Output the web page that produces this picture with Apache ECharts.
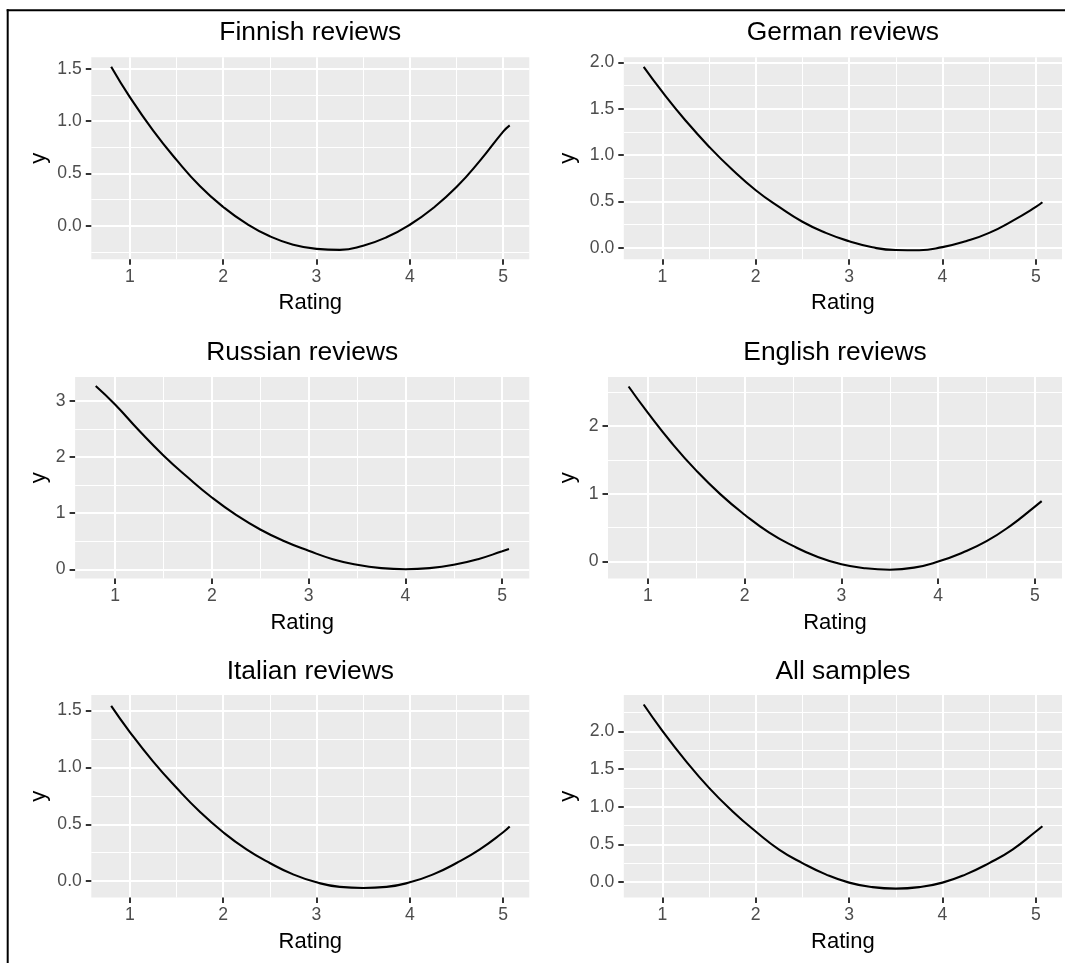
<!DOCTYPE html>
<html>
<head>
<meta charset="utf-8">
<script src="https://cdn.jsdelivr.net/npm/echarts@6/dist/echarts.min.js"></script>
<style>html,body{margin:0;padding:0;background:#fff}#c{width:1065px;height:963px}</style>
</head>
<body>
<div id="c"></div>
<script>
// ---- data ----
const ratings  = [0.8, 1.0, 1.25, 1.5, 1.75, 2.0, 2.25, 2.5, 2.75, 3.0, 3.25, 3.5, 3.75, 4.0, 4.25, 4.5, 4.75, 5.0, 5.07];
const finnish  = [1.52, 1.23, 0.91, 0.63, 0.38, 0.18, 0.02, -0.10, -0.18, -0.22, -0.23, -0.19, -0.11, 0.01, 0.17, 0.37, 0.62, 0.90, 0.96];
const german   = [1.95, 1.68, 1.37, 1.09, 0.84, 0.62, 0.44, 0.28, 0.16, 0.07, 0.004, -0.025, -0.027, 0.006, 0.07, 0.16, 0.29, 0.44, 0.49];
const russian  = [3.27, 2.94, 2.47, 2.03, 1.64, 1.28, 0.97, 0.71, 0.50, 0.33, 0.18, 0.08, 0.02, 0.00, 0.02, 0.08, 0.18, 0.32, 0.36];
const english  = [2.58, 2.19, 1.74, 1.34, 0.99, 0.69, 0.43, 0.23, 0.07, -0.04, -0.10, -0.12, -0.09, 0.00, 0.13, 0.30, 0.53, 0.81, 0.89];
const italian  = [1.54, 1.31, 1.05, 0.82, 0.61, 0.43, 0.28, 0.16, 0.06, -0.01, -0.05, -0.06, -0.05, -0.01, 0.06, 0.16, 0.28, 0.43, 0.48];
const allSamples = [2.36, 2.01, 1.61, 1.25, 0.94, 0.67, 0.43, 0.25, 0.10, -0.01, -0.07, -0.09, -0.07, -0.01, 0.10, 0.25, 0.43, 0.67, 0.74];

const panelTitles = ['Finnish reviews', 'German reviews', 'Russian reviews', 'English reviews', 'Italian reviews', 'All samples'];
const panelSeries = [finnish, german, russian, english, italian, allSamples];
const xTitle = 'Rating';
const yTitle = 'y';

const xRange = [0.587, 5.28];
const xMajorTicks = [1, 2, 3, 4, 5];
const xMinorTicks = [1.5, 2.5, 3.5, 4.5];

const yRanges = [[-0.32, 1.61], [-0.125, 2.054], [-0.165, 3.43], [-0.25, 2.72], [-0.143, 1.635], [-0.208, 2.486]];
const yMajorTicks = [[0, 0.5, 1, 1.5], [0, 0.5, 1, 1.5, 2], [0, 1, 2, 3], [0, 1, 2], [0, 0.5, 1, 1.5], [0, 0.5, 1, 1.5, 2]];
const yMinorTicks = [[-0.25, 0.25, 0.75, 1.25], [0.25, 0.75, 1.25, 1.75], [0.5, 1.5, 2.5], [0.5, 1.5, 2.5], [0.25, 0.75, 1.25], [0.25, 0.75, 1.25, 1.75, 2.25]];
const yTickDecimals = [1, 1, 0, 0, 1, 1];

// ---- layout (pixels) ----
const layout = [
  {left: 91.3, top: 57.3, width: 438, height: 202},
  {left: 623.8, top: 57.3, width: 438.2, height: 202},
  {left: 75.1, top: 377, width: 454.2, height: 201.5},
  {left: 608, top: 377, width: 454, height: 201.5},
  {left: 91.3, top: 695, width: 438, height: 202.5},
  {left: 623.8, top: 695, width: 438.2, height: 202.5}
];
const yTitleX = [38.5, 568, 38.5, 568, 38.5, 568];
const rowTitleY = [33, 353, 672];
const rowXTitleY = [303, 623, 942];

const FONT = '"Liberation Sans", Arial, Helvetica, sans-serif';

const grids = [], xAxes = [], yAxes = [], series = [], graphics = [];

layout.forEach((l, i) => {
  grids.push({left: l.left, top: l.top, width: l.width, height: l.height, show: true,
    backgroundColor: '#EBEBEB', borderWidth: 0, containLabel: false, outerBoundsMode: 'none'});

  xAxes.push({
    type: 'value', gridIndex: i, min: xRange[0], max: xRange[1], position: 'bottom',
    axisLine: {show: false, onZero: false},
    axisTick: {show: true, length: 5.5, lineStyle: {color: '#333333', width: 2}, customValues: xMajorTicks},
    axisLabel: {show: true, customValues: xMajorTicks, margin: 8.5, color: '#4D4D4D', fontSize: 17.6, fontFamily: FONT,
      formatter: v => String(v)},
    splitLine: {show: true, lineStyle: {color: '#FFFFFF', width: 2}},
    minorTick: {show: false}, minorSplitLine: {show: false}
  });
  xAxes.push({
    type: 'value', gridIndex: i, min: xRange[0], max: xRange[1], position: 'top',
    axisLine: {show: false, onZero: false},
    axisTick: {show: false, customValues: xMinorTicks},
    axisLabel: {show: false, customValues: xMinorTicks},
    splitLine: {show: true, lineStyle: {color: '#FFFFFF', width: 1}}
  });

  const dec = yTickDecimals[i];
  yAxes.push({
    type: 'value', gridIndex: i, min: yRanges[i][0], max: yRanges[i][1], position: 'left',
    axisLine: {show: false, onZero: false},
    axisTick: {show: true, length: 5.5, lineStyle: {color: '#333333', width: 2}, customValues: yMajorTicks[i]},
    axisLabel: {show: true, customValues: yMajorTicks[i], margin: 9.5, color: '#4D4D4D', fontSize: 17.6, fontFamily: FONT,
      formatter: v => Number(v).toFixed(dec)},
    splitLine: {show: true, lineStyle: {color: '#FFFFFF', width: 2}},
    minorTick: {show: false}, minorSplitLine: {show: false}
  });
  yAxes.push({
    type: 'value', gridIndex: i, min: yRanges[i][0], max: yRanges[i][1], position: 'right',
    axisLine: {show: false, onZero: false},
    axisTick: {show: false, customValues: yMinorTicks[i]},
    axisLabel: {show: false, customValues: yMinorTicks[i]},
    splitLine: {show: true, lineStyle: {color: '#FFFFFF', width: 1}}
  });

  series.push({
    type: 'line', xAxisIndex: 2 * i, yAxisIndex: 2 * i,
    data: ratings.map((x, j) => [x, panelSeries[i][j]]),
    smooth: 0.5, symbol: 'none', showSymbol: false,
    lineStyle: {color: '#000000', width: 2.1}, silent: true, z: 5
  });

  const cx = l.left + l.width / 2;
  const row = Math.floor(i / 2);
  graphics.push({type: 'text', x: cx, y: rowTitleY[row], silent: true,
    style: {text: panelTitles[i], x: 0, y: 0, fill: '#000', fontSize: 26.4, fontFamily: FONT,
      textAlign: 'center', textVerticalAlign: 'middle', align: 'center', verticalAlign: 'middle'}});
  graphics.push({type: 'text', x: cx, y: rowXTitleY[row], silent: true,
    style: {text: xTitle, x: 0, y: 0, fill: '#000', fontSize: 22, fontFamily: FONT,
      textAlign: 'center', textVerticalAlign: 'middle', align: 'center', verticalAlign: 'middle'}});
  graphics.push({type: 'text', x: yTitleX[i], y: l.top + l.height / 2, rotation: Math.PI / 2, silent: true,
    style: {text: yTitle, x: 0, y: 0, fill: '#000', fontSize: 22, fontFamily: FONT,
      textAlign: 'center', textVerticalAlign: 'middle', align: 'center', verticalAlign: 'middle'}});
});

// frame lines (top and left)
graphics.push({type: 'line', silent: true, shape: {x1: 6.7, y1: 10.3, x2: 1065, y2: 10.3}, style: {stroke: '#000', lineWidth: 2}});
graphics.push({type: 'line', silent: true, shape: {x1: 7.7, y1: 9.3, x2: 7.7, y2: 963}, style: {stroke: '#000', lineWidth: 2}});

const chart = echarts.init(document.getElementById('c'), null, {renderer: 'canvas'});
chart.setOption({
  animation: false,
  backgroundColor: '#FFFFFF',
  grid: grids,
  xAxis: xAxes,
  yAxis: yAxes,
  series: series,
  graphic: graphics
});
</script>
</body>
</html>
